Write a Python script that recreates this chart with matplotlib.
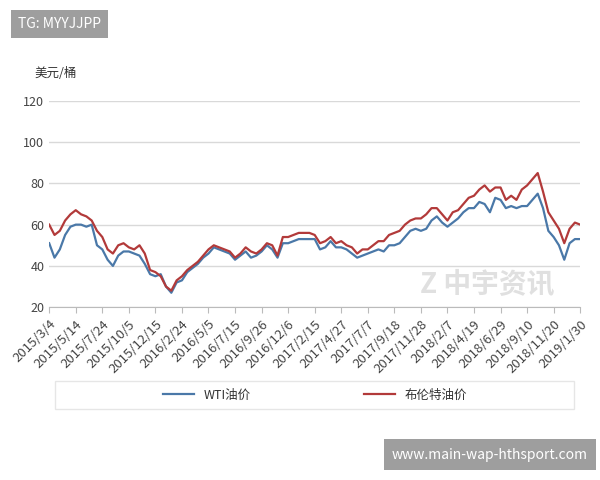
import matplotlib.pyplot as plt
from matplotlib.patches import Rectangle

plt.rcParams['font.family'] = ['Noto Sans CJK SC', 'DejaVu Sans']

tick_labels = ["2015/3/4", "2015/5/14", "2015/7/24", "2015/10/5", "2015/12/15",
               "2016/2/24", "2016/5/5", "2016/7/15", "2016/9/26", "2016/12/6",
               "2017/2/15", "2017/4/27", "2017/7/7", "2017/9/18", "2017/11/28",
               "2018/2/7", "2018/4/19", "2018/6/29", "2018/9/10", "2018/11/20",
               "2019/1/30"]

# Brent (布伦特), 5 readings per tick interval
brent = [60, 55, 57, 62, 65,
         67, 65, 64, 62, 57,
         54, 48, 46, 50, 51,
         49, 48, 50, 46, 38,
         37, 35, 30, 28, 33,
         35, 38, 40, 42, 45,
         48, 50, 49, 48, 47,
         44, 46, 49, 47, 46,
         48, 51, 50, 45, 54,
         54, 55, 56, 56, 56,
         55, 51, 52, 54, 51,
         52, 50, 49, 46, 48,
         48, 50, 52, 52, 55,
         56, 57, 60, 62, 63,
         63, 65, 68, 68, 65,
         62, 66, 67, 70, 73,
         74, 77, 79, 76, 78,
         78, 72, 74, 72, 77,
         79, 82, 85, 76, 66,
         62, 58, 51, 58, 61, 60]

wti = [51, 44, 48, 55, 59,
       60, 60, 59, 60, 50,
       48, 43, 40, 45, 47,
       47, 46, 45, 41, 36,
       35, 36, 30, 27, 32,
       33, 37, 39, 41, 44,
       46, 49, 48, 47, 46,
       43, 45, 47, 44, 45,
       47, 50, 48, 44, 51,
       51, 52, 53, 53, 53,
       53, 48, 49, 52, 49,
       49, 48, 46, 44, 45,
       46, 47, 48, 47, 50,
       50, 51, 54, 57, 58,
       57, 58, 62, 64, 61,
       59, 61, 63, 66, 68,
       68, 71, 70, 66, 73,
       72, 68, 69, 68, 69,
       69, 72, 75, 68, 57,
       54, 50, 43, 51, 53, 53]

fig = plt.figure(figsize=(6, 4.8), dpi=100)
ax = fig.add_axes([0.082, 0.36, 0.885, 0.43])
x = range(len(brent))
ax.plot(x, wti, color="#4a78a8", linewidth=1.6, label="WTI油价")
ax.plot(x, brent, color="#b23a3a", linewidth=1.6, label="布伦特油价")

ax.set_ylim(20, 120)
ax.set_yticks(range(20, 121, 20))
ax.set_xlim(0, len(brent) - 1)
ax.set_xticks(range(0, len(brent), 5))
ax.set_xticklabels(tick_labels, rotation=45, ha="right", rotation_mode="anchor", fontsize=9.5)
ax.tick_params(axis="y", length=0, labelsize=9, colors="#444444")
ax.tick_params(axis="x", length=4, color="#bbbbbb", colors="#444444")
ax.grid(axis="y", color="#d9d9d9", linewidth=1)
for s in ["top", "right", "left"]:
    ax.spines[s].set_visible(False)
ax.spines["bottom"].set_color("#bbbbbb")

fig.text(0.058, 0.84, "美元/桶", fontsize=9, color="#333333")

# watermark
fig.text(0.70, 0.39, "Z 中宇资讯", fontsize=20, color="#e0e0e0", fontweight="bold")

# legend frame drawn separately so the entries stay centred
fig.patches.append(Rectangle((0.092, 0.147), 0.865, 0.06, transform=fig.transFigure,
                             facecolor="none", edgecolor="#e6e6e6", linewidth=1))
leg = fig.legend(loc="center", bbox_to_anchor=(0.525, 0.177), ncol=2, frameon=False,
                 fontsize=9, handlelength=2.5, columnspacing=9)
for t in leg.get_texts():
    t.set_color("#333333")

fig.text(0.03, 0.95, "TG: MYYJJPP", fontsize=10, color="white", va="center",
         bbox=dict(boxstyle="square,pad=0.5", facecolor="#9e9e9e", edgecolor="none"))
fig.text(0.98, 0.053, "www.main-wap-hthsport.com", fontsize=10, color="white", va="center", ha="right",
         bbox=dict(boxstyle="square,pad=0.6", facecolor="#9e9e9e", edgecolor="none"))

fig.savefig("out.png", dpi=100)
